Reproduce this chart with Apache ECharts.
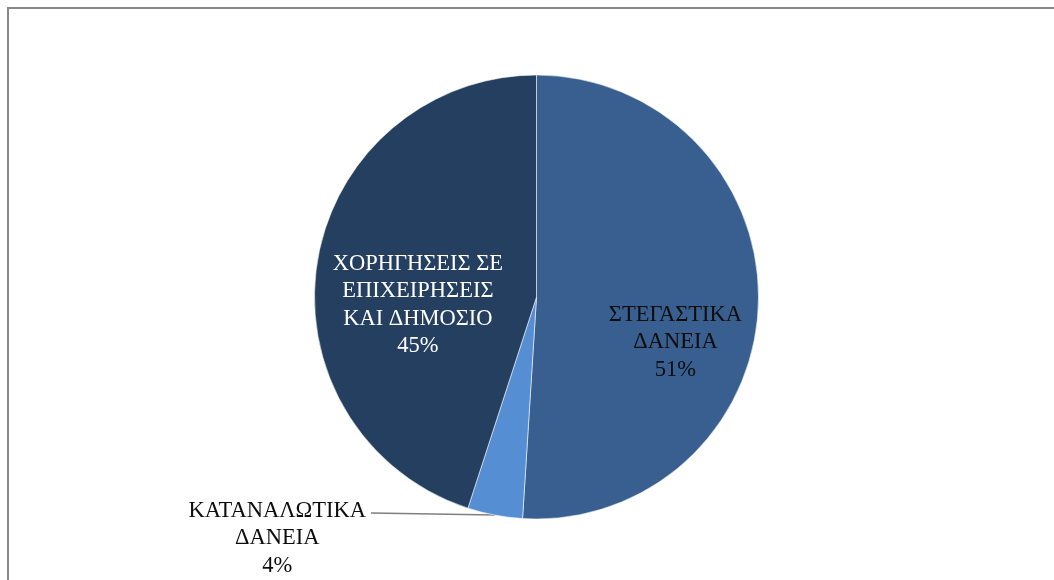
<!DOCTYPE html>
<html>
<head>
<meta charset="utf-8">
<script src="https://cdn.jsdelivr.net/npm/echarts@6/dist/echarts.min.js"></script>
<style>
  html, body { margin: 0; padding: 0; background: #fff; overflow: hidden; }
  #wrap { position: relative; width: 1054px; height: 580px; overflow: hidden; }
  #chart { position: absolute; left: 0; top: 0; width: 1054px; height: 580px; }
  #frame { position: absolute; left: 7px; top: 7px; width: 1200px; height: 700px;
           border-top: 2px solid #878787; border-left: 2px solid #878787; pointer-events: none; }
</style>
</head>
<body>
<div id="wrap">
  <div id="chart"></div>
  <div id="frame"></div>
</div>
<script>
// Loan categories and their shares (%)
const categories = [
  'ΣΤΕΓΑΣΤΙΚΑ\nΔΑΝΕΙΑ',
  'ΚΑΤΑΝΑΛΩΤΙΚΑ\nΔΑΝΕΙΑ',
  'ΧΟΡΗΓΗΣΕΙΣ ΣΕ\nΕΠΙΧΕΙΡΗΣΕΙΣ\nΚΑΙ ΔΗΜΟΣΙΟ'
];
const shares = [51, 4, 45];

const sliceColors = ['#385F8F', '#568ED4', '#253F60'];
const labelColors = ['#0d0d0d', '#0d0d0d', '#ffffff'];

const chart = echarts.init(document.getElementById('chart'), null, { renderer: 'canvas' });

const data = categories.map((name, i) => ({
  name: name,
  value: shares[i],
  itemStyle: { color: sliceColors[i] },
  label: {
    color: labelColors[i],
    position: i === 1 ? 'outside' : 'inside'
  },
  labelLine: { show: i === 1 }
}));

// nudges for the inside labels
const insideShift = { 0: [25, 42], 2: [-6, 26] };
// leader of the small slice: horizontal run to the left of the rim point
const leaderRun = 124;

chart.setOption({
  animation: false,
  series: [{
    type: 'pie',
    center: [536.5, 297],
    radius: 222,
    startAngle: 90,
    clockwise: true,
    avoidLabelOverlap: false,
    itemStyle: { borderColor: 'rgba(255,255,255,0.55)', borderWidth: 1 },
    label: {
      formatter: '{b}\n{d}%',
      fontFamily: '"Liberation Serif", "Times New Roman", serif',
      fontSize: 22.5,
      lineHeight: 27.5,
      align: 'center'
    },
    labelLine: {
      length: 0,
      length2: leaderRun,
      lineStyle: { color: '#7f7f7f', width: 1.5 }
    },
    labelLayout: function (params) {
      if (params.dataIndex === 1 && params.labelLinePoints) {
        const start = params.labelLinePoints[0];
        const end = [start[0] - leaderRun, start[1] - 2];
        return {
          x: end[0] - 5 - params.labelRect.width / 2,
          y: end[1] - 16,
          align: 'center',
          verticalAlign: 'top',
          labelLinePoints: [start, start, end]
        };
      }
      const s = insideShift[params.dataIndex];
      return s ? { dx: s[0], dy: s[1] } : {};
    },
    data: data
  }]
});
</script>
</body>
</html>
